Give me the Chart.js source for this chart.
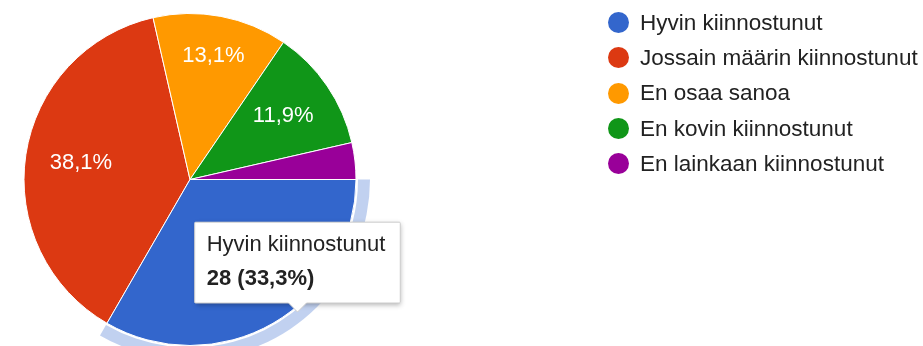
<!DOCTYPE html>
<html lang="fi">
<head>
<meta charset="utf-8">
<title>Kiinnostus</title>
<script src="https://cdn.jsdelivr.net/npm/chart.js@4/dist/chart.umd.min.js"></script>
<style>
    html, body { margin: 0; padding: 0; background: #fff; }
    #wrap { position: relative; width: 923px; height: 346px; overflow: hidden; }
    #legend {
        position: absolute; left: 608px; top: 5px; margin: 0; padding: 0; list-style: none;
        font: 22.5px Arial, "Liberation Sans", sans-serif; color: #222;
    }
    #legend li { display: flex; align-items: center; height: 35.3px; white-space: nowrap; }
    #legend .dot { width: 21px; height: 21px; border-radius: 50%; margin-right: 11px; flex: none; }
</style>
</head>
<body>
<div id="wrap">
    <canvas id="pieChart"></canvas>
    <ul id="legend"></ul>
</div>
<script>
const labels = ['Hyvin kiinnostunut', 'Jossain määrin kiinnostunut', 'En osaa sanoa', 'En kovin kiinnostunut', 'En lainkaan kiinnostunut'];
const counts = [28, 32, 11, 10, 3];
const colors = ['#3366cc', '#dc3912', '#ff9900', '#109618', '#990099'];

const total = counts.reduce((a, b) => a + b, 0);
const FONT = 'Arial, "Liberation Sans", sans-serif';
// pointer position used for the hover state
const hoverPoint = { x: 297.5, y: 313 };

function formatPct(share) {
    return (share * 100).toFixed(1).replace('.', ',') + '%';
}

// tooltip follows the pointer, like the original hover
Chart.Tooltip.positioners.pointer = function(items, eventPosition) {
    return eventPosition || false;
};

// percentage text inside each slice, pushed out until the box touches 86% of the radius
const sliceLabels = {
    id: 'sliceLabels',
    afterDatasetsDraw(chart) {
        const ctx = chart.ctx;
        const meta = chart.getDatasetMeta(0);
        ctx.save();
        ctx.font = '22px ' + FONT;
        ctx.fillStyle = '#ffffff';
        ctx.textAlign = 'center';
        ctx.textBaseline = 'middle';
        meta.data.forEach((arc, i) => {
            const share = counts[i] / total;
            if (share < 0.05) return;
            const p = arc.getProps(['x', 'y', 'startAngle', 'endAngle', 'outerRadius'], true);
            const mid = (p.startAngle + p.endAngle) / 2;
            const text = formatPct(share);
            const hw = ctx.measureText(text).width / 2;
            const hh = 8;
            const cos = Math.cos(mid), sin = Math.sin(mid);
            const limit = p.outerRadius * 0.86;
            let d = limit;
            while (d > 0 && Math.hypot(d * cos + hw * Math.sign(cos), d * sin + hh * Math.sign(sin)) > limit) {
                d -= 0.5;
            }
            ctx.fillText(text, p.x + d * cos, p.y + d * sin);
        });
        ctx.restore();
    }
};

// light band around the hovered slice
const hoverRing = {
    id: 'hoverRing',
    afterDatasetsDraw(chart) {
        const ctx = chart.ctx;
        chart.getActiveElements().forEach(a => {
            const arc = chart.getDatasetMeta(a.datasetIndex).data[a.index];
            const p = arc.getProps(['x', 'y', 'startAngle', 'endAngle', 'outerRadius'], true);
            ctx.save();
            ctx.beginPath();
            ctx.arc(p.x, p.y, p.outerRadius + 14, p.startAngle, p.endAngle);
            ctx.arc(p.x, p.y, p.outerRadius + 2, p.endAngle, p.startAngle, true);
            ctx.closePath();
            ctx.fillStyle = 'rgba(51, 102, 204, 0.3)';
            ctx.fill();
            ctx.restore();
        });
    }
};

// soft shadow under the tooltip box
const tooltipShadow = {
    id: 'tooltipShadow',
    beforeTooltipDraw(chart, args) {
        const tip = args.tooltip;
        if (!tip.opacity) return;
        const ctx = chart.ctx;
        ctx.save();
        ctx.shadowColor = 'rgba(0, 0, 0, 0.3)';
        ctx.shadowBlur = 5;
        ctx.shadowOffsetX = 1;
        ctx.shadowOffsetY = 2;
        ctx.fillStyle = '#fff';
        ctx.fillRect(tip.x, tip.y, tip.width, tip.height);
        ctx.restore();
    }
};

const legendEl = document.getElementById('legend');
labels.forEach((name, i) => {
    const li = document.createElement('li');
    const dot = document.createElement('span');
    dot.className = 'dot';
    dot.style.background = colors[i];
    li.appendChild(dot);
    li.appendChild(document.createTextNode(name));
    legendEl.appendChild(li);
});

const ctx = document.getElementById('pieChart').getContext('2d');
const pieChart = new Chart(ctx, {
    type: 'pie',
    data: {
        labels: labels,
        datasets: [{
            data: counts,
            backgroundColor: colors,
            hoverBackgroundColor: colors,
            borderColor: '#ffffff',
            hoverBorderColor: '#ffffff',
            borderWidth: 1,
            hoverBorderWidth: 1,
            hoverOffset: 0
        }]
    },
    options: {
        responsive: true,
        maintainAspectRatio: false,
        animation: false,
        rotation: 90,
        events: [],
        layout: {
            padding: { left: 23, top: 13, right: 566, bottom: 0 }
        },
        plugins: {
            legend: { display: false },
            tooltip: {
                position: 'pointer',
                xAlign: 'center',
                yAlign: 'bottom',
                backgroundColor: '#ffffff',
                borderColor: '#cccccc',
                borderWidth: 1,
                cornerRadius: 1,
                caretSize: 9,
                caretPadding: 1,
                displayColors: false,
                titleColor: '#222222',
                bodyColor: '#222222',
                titleFont: { family: FONT, size: 22, weight: 'normal' },
                bodyFont: { family: FONT, size: 22, weight: 'bold' },
                titleMarginBottom: 7,
                padding: { top: 10, right: 15, bottom: 11, left: 12 },
                callbacks: {
                    title: items => items[0].label,
                    label: item => `${item.raw} (${formatPct(item.raw / total)})`
                }
            }
        }
    },
    plugins: [hoverRing, sliceLabels, tooltipShadow]
});

pieChart.setActiveElements([{ datasetIndex: 0, index: 0 }]);
pieChart.tooltip.setActiveElements([{ datasetIndex: 0, index: 0 }], hoverPoint);
pieChart.update();
</script>
</body>
</html>
